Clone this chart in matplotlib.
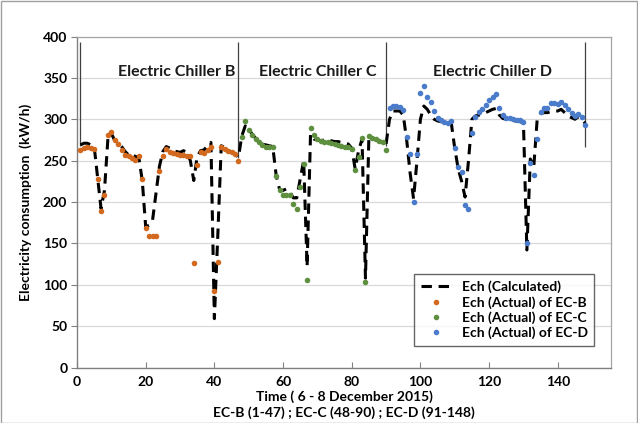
import numpy as np
import matplotlib
matplotlib.use("Agg")
import matplotlib.pyplot as plt
from matplotlib.patches import Rectangle

plt.rcParams['font.family'] = ['Lato', 'DejaVu Sans']

# Time index (hours), 6 - 8 December 2015
time = np.arange(1, 149)

# Calculated electricity consumption (kW/h)
ech_calc = [
    # EC-B (1-47)
    269, 271, 271, 269, 267, 230, 192, 214, 277, 283, 274, 272, 267, 261, 257, 258,
    255, 254, 226, 170, 172, 178, 210, 243, 261, 267, 265, 262, 261, 260, 262, 260,
    250, 226, 255, 262, 263, 268, 272, 59, 160, 268, 266, 263, 260, 258, 254,
    # EC-C (48-90)
    280, 292, 288, 282, 277, 272, 270, 269, 268, 267, 232, 215, 214, 216, 212, 205,
    205, 228, 250, 122, 282, 276, 275, 274, 275, 276, 274, 273, 273, 272, 271, 270,
    265, 240, 262, 276, 108, 280, 277, 275, 273, 272, 270,
    # EC-D (91-148)
    300, 310, 310, 310, 305, 275, 235, 204, 250, 300, 316, 312, 305, 300, 298, 297,
    297, 297, 295, 265, 240, 225, 206, 250, 300, 304, 305, 306, 308, 310, 312, 313,
    305, 301, 300, 299, 298, 298, 297, 296, 142, 252, 242, 300, 307, 308, 308, 309,
    310, 310, 312, 308, 304, 302, 300, 303, 300, 295,
]

# Actual electricity consumption per chiller
time_b = np.arange(1, 48)
actual_b = [
    263, 265, 266, 265, 264, 228, 189, 208, 281, 284, 275, 270, 263, 257, 255, 253,
    251, 256, 228, 168, 159, 159, 159, 237, 256, 264, 261, 259, 258, 257, 257, 256,
    255, 126, 245, 260, 259, 263, 266, 93, 128, 266, 264, 262, 260, 258, 250,
]
time_c = np.arange(48, 91)
actual_c = [
    279, 298, 287, 281, 276, 272, 269, 267, 267, 266, 232, 214, 209, 208, 208, 197,
    191, 218, 246, 106, 289, 281, 276, 274, 273, 272, 271, 270, 269, 268, 267, 266,
    264, 239, 254, 277, 103, 280, 277, 276, 274, 273, 263,
]
time_d = np.arange(91, 149)
actual_d = [
    314, 316, 316, 315, 311, 279, 258, 200, 258, 332, 340, 327, 321, 310, 302, 299,
    297, 295, 298, 265, 242, 236, 196, 191, 283, 303, 309, 312, 317, 323, 327, 331,
    313, 305, 302, 301, 300, 299, 299, 297, 150, 247, 233, 276, 309, 314, 314, 320,
    320, 319, 321, 317, 312, 308, 304, 306, 303, 293,
]

# Chiller section dividers and labels
divider_t = [1, 47, 90, 148]
divider_bottom = [268, 253, 268, 267]
section_labels = ["Electric Chiller B", "Electric Chiller C", "Electric Chiller D"]
section_label_t = [29, 70, 121]

fig = plt.figure(figsize=(6.38, 4.23), dpi=100)
ax = fig.add_axes([0.1207, 0.1312, 0.8370, 0.7825])

col_b = '#D2691E'
col_c = '#5E9040'
col_d = '#4A7CCB'

ax.plot(time, ech_calc, color='black', lw=2.2, linestyle=(0, (3.4, 2.2)),
        label='Ech (Calculated)', zorder=3)
ax.plot(time_b, actual_b, 'o', color=col_b, ms=4, mec='none',
        label='Ech (Actual) of EC-B', zorder=4)
ax.plot(time_c, actual_c, 'o', color=col_c, ms=4, mec='none',
        label='Ech (Actual) of EC-C', zorder=4)
ax.plot(time_d, actual_d, 'o', color=col_d, ms=4, mec='none',
        label='Ech (Actual) of EC-D', zorder=4)

for t, b in zip(divider_t, divider_bottom):
    ax.vlines(t, b, 393, color='#404040', lw=0.9, zorder=2)

for lab, t in zip(section_labels, section_label_t):
    ax.text(t, 357, lab, ha='center', va='center', fontsize=11.5,
            fontweight='bold', color='#1a1a1a')

ax.set_xlim(0, 155.5)
ax.set_ylim(0, 400)
ax.set_xticks(np.arange(0, 141, 20))
ax.set_yticks(np.arange(0, 401, 50))
ax.grid(axis='y', color='#d9d9d9', lw=0.9)
ax.set_axisbelow(True)

for lbl in ax.get_xticklabels() + ax.get_yticklabels():
    lbl.set_fontweight('bold')
    lbl.set_fontsize(10)
ax.tick_params(axis='x', direction='in', length=4, color='#808080', pad=6)
ax.tick_params(axis='y', direction='out', length=4, color='#808080', pad=3)

for s in ['left', 'bottom']:
    ax.spines[s].set_color('#808080')
    ax.spines[s].set_linewidth(1.0)
for s in ['top', 'right']:
    ax.spines[s].set_color('#a6a6a6')
    ax.spines[s].set_linewidth(0.9)

ax.set_ylabel('Electricity consumption  (kW/h)', fontsize=10, fontweight='bold', labelpad=8)
ax.set_xlabel('Time ( 6 - 8 December 2015)\nEC-B (1-47) ; EC-C (48-90) ; EC-D (91-148)',
              fontsize=10, fontweight='bold', linespacing=1.25, labelpad=2)

leg = ax.legend(loc='lower right', bbox_to_anchor=(0.982, 0.045),
                frameon=True, fancybox=False, edgecolor='#404040',
                handlelength=2.2, borderpad=0.45, labelspacing=0.2,
                prop={'weight': 'bold', 'size': 10})
leg.get_frame().set_linewidth(1.0)

fig.patches.append(Rectangle((0.001, 0.001), 0.997, 0.997, transform=fig.transFigure,
                             fill=False, edgecolor='#a0a0a0', lw=1.0))

fig.savefig('out.png', dpi=100)
